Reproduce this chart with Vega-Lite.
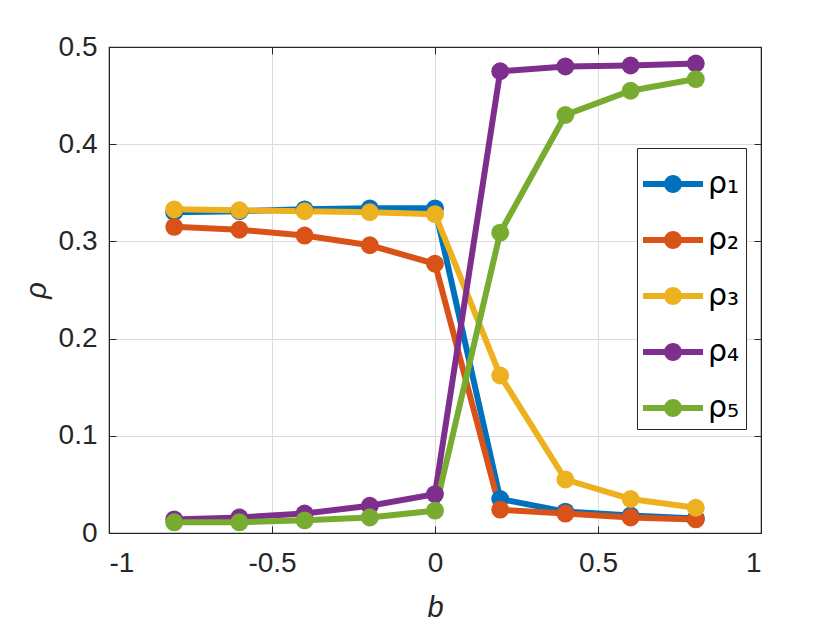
{
  "$schema": "https://vega.github.io/schema/vega-lite/v6.json",
  "width": 652,
  "height": 486,
  "autosize": {"type": "none"},
  "padding": {"left": 109, "top": 47, "right": 79, "bottom": 97},
  "background": "white",
  "config": {
    "font": "Liberation Sans",
    "view": {"stroke": "#262626", "strokeWidth": 1.2},
    "axis": {
      "labelFont": "Liberation Sans",
      "labelFontSize": 28,
      "labelColor": "#262626",
      "titleFont": "Liberation Sans",
      "titleFontSize": 29,
      "titleFontStyle": "italic",
      "titleFontWeight": "normal",
      "titleColor": "#262626",
      "domainColor": "#262626",
      "tickColor": "#262626",
      "gridColor": "#dcdcdc",
      "gridWidth": 1
    }
  },
  "data": {
    "values": [
      {"b": -0.8, "rho": 0.330, "s": "ρ₁"},
      {"b": -0.6, "rho": 0.331, "s": "ρ₁"},
      {"b": -0.4, "rho": 0.333, "s": "ρ₁"},
      {"b": -0.2, "rho": 0.334, "s": "ρ₁"},
      {"b": 0.0, "rho": 0.334, "s": "ρ₁"},
      {"b": 0.2, "rho": 0.035, "s": "ρ₁"},
      {"b": 0.4, "rho": 0.022, "s": "ρ₁"},
      {"b": 0.6, "rho": 0.018, "s": "ρ₁"},
      {"b": 0.8, "rho": 0.015, "s": "ρ₁"},
      {"b": -0.8, "rho": 0.315, "s": "ρ₂"},
      {"b": -0.6, "rho": 0.312, "s": "ρ₂"},
      {"b": -0.4, "rho": 0.306, "s": "ρ₂"},
      {"b": -0.2, "rho": 0.296, "s": "ρ₂"},
      {"b": 0.0, "rho": 0.277, "s": "ρ₂"},
      {"b": 0.2, "rho": 0.024, "s": "ρ₂"},
      {"b": 0.4, "rho": 0.020, "s": "ρ₂"},
      {"b": 0.6, "rho": 0.016, "s": "ρ₂"},
      {"b": 0.8, "rho": 0.014, "s": "ρ₂"},
      {"b": -0.8, "rho": 0.333, "s": "ρ₃"},
      {"b": -0.6, "rho": 0.332, "s": "ρ₃"},
      {"b": -0.4, "rho": 0.331, "s": "ρ₃"},
      {"b": -0.2, "rho": 0.330, "s": "ρ₃"},
      {"b": 0.0, "rho": 0.328, "s": "ρ₃"},
      {"b": 0.2, "rho": 0.162, "s": "ρ₃"},
      {"b": 0.4, "rho": 0.055, "s": "ρ₃"},
      {"b": 0.6, "rho": 0.035, "s": "ρ₃"},
      {"b": 0.8, "rho": 0.026, "s": "ρ₃"},
      {"b": -0.8, "rho": 0.014, "s": "ρ₄"},
      {"b": -0.6, "rho": 0.016, "s": "ρ₄"},
      {"b": -0.4, "rho": 0.020, "s": "ρ₄"},
      {"b": -0.2, "rho": 0.028, "s": "ρ₄"},
      {"b": 0.0, "rho": 0.040, "s": "ρ₄"},
      {"b": 0.2, "rho": 0.475, "s": "ρ₄"},
      {"b": 0.4, "rho": 0.480, "s": "ρ₄"},
      {"b": 0.6, "rho": 0.481, "s": "ρ₄"},
      {"b": 0.8, "rho": 0.483, "s": "ρ₄"},
      {"b": -0.8, "rho": 0.011, "s": "ρ₅"},
      {"b": -0.6, "rho": 0.011, "s": "ρ₅"},
      {"b": -0.4, "rho": 0.013, "s": "ρ₅"},
      {"b": -0.2, "rho": 0.016, "s": "ρ₅"},
      {"b": 0.0, "rho": 0.023, "s": "ρ₅"},
      {"b": 0.2, "rho": 0.309, "s": "ρ₅"},
      {"b": 0.4, "rho": 0.430, "s": "ρ₅"},
      {"b": 0.6, "rho": 0.455, "s": "ρ₅"},
      {"b": 0.8, "rho": 0.467, "s": "ρ₅"}
    ]
  },
  "layer": [
    {
      "mark": {
        "type": "line",
        "strokeWidth": 6,
        "point": {"filled": true, "size": 320, "opacity": 1}
      },
      "encoding": {
        "x": {
          "field": "b",
          "type": "quantitative",
          "scale": {"domain": [-1, 1], "nice": false},
          "axis": {
            "title": "b",
            "values": [-1, -0.5, 0, 0.5, 1],
            "labelExpr": "'' + datum.value",
            "tickSize": -7,
            "labelPadding": 23,
            "titlePadding": 16
          }
        },
        "y": {
          "field": "rho",
          "type": "quantitative",
          "scale": {"domain": [0, 0.5], "nice": false},
          "axis": {
            "title": "ρ",
            "values": [0, 0.1, 0.2, 0.3, 0.4, 0.5],
            "labelExpr": "'' + datum.value",
            "tickSize": -7,
            "labelPadding": 19,
            "titlePadding": 7
          }
        },
        "color": {
          "field": "s",
          "type": "nominal",
          "scale": {
            "domain": ["ρ₁", "ρ₂", "ρ₃", "ρ₄", "ρ₅"],
            "range": ["#0072BD", "#D95319", "#EDB120", "#7E2F8E", "#77AC30"]
          },
          "legend": {
            "title": null,
            "orient": "none",
            "legendX": 528,
            "legendY": 101,
            "direction": "vertical",
            "fillColor": "white",
            "strokeColor": "#262626",
            "padding": 6,
            "rowPadding": 11,
            "symbolType": "M-1,-0.1L1,-0.1L1,0.1L-1,0.1Z M-0.3,0A0.3,0.3 0 1,1 0.3,0A0.3,0.3 0 1,1 -0.3,0Z",
            "symbolSize": 3600,
            "symbolStrokeWidth": 0,
            "labelFont": "DejaVu Sans",
            "labelFontSize": 30,
            "labelColor": "#000000",
            "labelOffset": 5,
            "encode": {
              "symbols": {
                "update": {
                  "fill": {"scale": "color", "field": "value"},
                  "fillOpacity": {"value": 1},
                  "strokeWidth": {"value": 0}
                }
              }
            }
          }
        }
      }
    },
    {
      "mark": {"type": "point", "opacity": 0},
      "encoding": {
        "x": {
          "field": "b",
          "type": "quantitative",
          "axis": {
            "orient": "top",
            "values": [-1, -0.5, 0, 0.5, 1],
            "labels": false,
            "title": null,
            "grid": false,
            "tickSize": -7
          }
        },
        "y": {
          "field": "rho",
          "type": "quantitative",
          "axis": {
            "orient": "right",
            "values": [0, 0.1, 0.2, 0.3, 0.4, 0.5],
            "labels": false,
            "title": null,
            "grid": false,
            "tickSize": -7
          }
        }
      }
    }
  ],
  "resolve": {"axis": {"x": "independent", "y": "independent"}}
}
